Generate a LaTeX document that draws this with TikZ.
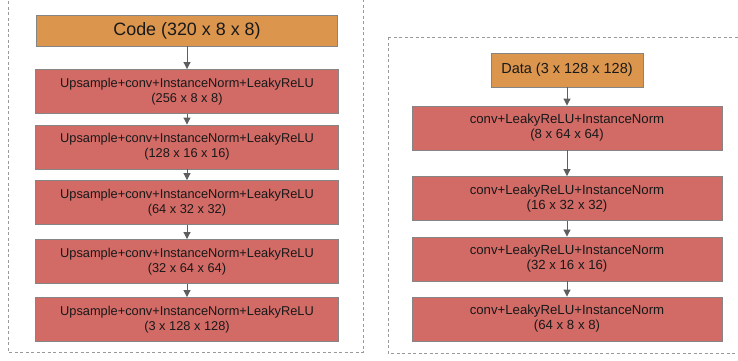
\documentclass[tikz,border=0pt]{standalone}
\usepackage{fontspec}
\setmainfont{Liberation Sans}
\usetikzlibrary{arrows.meta}
\definecolor{boxred}{HTML}{D26A66}
\definecolor{boxorange}{HTML}{DB954D}
\definecolor{boxborder}{HTML}{858585}
\definecolor{arrowgray}{HTML}{5E5E5E}
\definecolor{dashgray}{HTML}{9A9A9A}
\tikzset{
  layer/.style={draw=boxborder, line width=0.9pt, fill=boxred, align=center,
    inner sep=0pt, font=\fontsize{12.8}{15}\selectfont, text=black!90},
  inputbox/.style={draw=boxborder, line width=0.9pt, fill=boxorange, align=center,
    inner sep=0pt, text=black!90},
  flow/.style={draw=arrowgray, line width=1pt, -{Triangle[length=7pt,width=7pt]}},
  groupbox/.style={draw=dashgray, line width=1pt, dash pattern=on 3pt off 2.5pt},
}
\begin{document}
\begin{tikzpicture}[x=1pt,y=-1pt]
\useasboundingbox (0,0) rectangle (738,360);
\clip (0,0) rectangle (738,360);
% group boxes
\draw[groupbox] (8,-10) rectangle (363,352);
\draw[groupbox] (388,37) rectangle (750,353);
% left column
\node[inputbox, minimum width=301pt, minimum height=31pt, font=\fontsize{17.9}{20}\selectfont] (code) at (187,30.5) {Code (320 x 8 x 8)};
\node[layer, minimum width=303pt, minimum height=44pt] (u1) at (187,91.5) {Upsample+conv+InstanceNorm+LeakyReLU\\(256 x 8 x 8)};
\node[layer, minimum width=303pt, minimum height=44pt] (u2) at (187,147) {Upsample+conv+InstanceNorm+LeakyReLU\\(128 x 16 x 16)};
\node[layer, minimum width=303pt, minimum height=44pt] (u3) at (187,202.5) {Upsample+conv+InstanceNorm+LeakyReLU\\(64 x 32 x 32)};
\node[layer, minimum width=303pt, minimum height=44pt] (u4) at (187,261.5) {Upsample+conv+InstanceNorm+LeakyReLU\\(32 x 64 x 64)};
\node[layer, minimum width=303pt, minimum height=44pt] (u5) at (187,319.5) {Upsample+conv+InstanceNorm+LeakyReLU\\(3 x 128 x 128)};
\draw[flow] (code) -- (u1);
\draw[flow] (u1) -- (u2);
\draw[flow] (u2) -- (u3);
\draw[flow] (u3) -- (u4);
\draw[flow] (u4) -- (u5);
% right column
\node[inputbox, minimum width=152pt, minimum height=34pt, font=\fontsize{14.5}{17}\selectfont] (data) at (567,70) {Data (3 x 128 x 128)};
\node[layer, minimum width=310pt, minimum height=44pt, font=\fontsize{13.2}{15}\selectfont] (c1) at (567,128) {conv+LeakyReLU+InstanceNorm\\(8 x 64 x 64)};
\node[layer, minimum width=310pt, minimum height=44pt, font=\fontsize{13.2}{15}\selectfont] (c2) at (567,198.5) {conv+LeakyReLU+InstanceNorm\\(16 x 32 x 32)};
\node[layer, minimum width=310pt, minimum height=44pt, font=\fontsize{13.2}{15}\selectfont] (c3) at (567,259) {conv+LeakyReLU+InstanceNorm\\(32 x 16 x 16)};
\node[layer, minimum width=310pt, minimum height=44pt, font=\fontsize{13.2}{15}\selectfont] (c4) at (567,319) {conv+LeakyReLU+InstanceNorm\\(64 x 8 x 8)};
\draw[flow] (data) -- (c1);
\draw[flow] (c1) -- (c2);
\draw[flow] (c2) -- (c3);
\draw[flow] (c3) -- (c4);
\end{tikzpicture}
\end{document}
